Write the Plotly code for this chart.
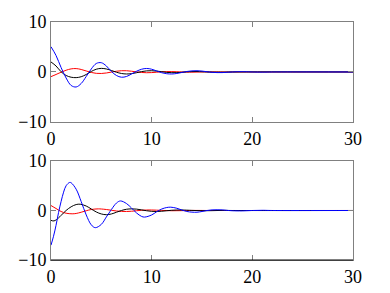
import plotly.graph_objects as go
from plotly.subplots import make_subplots

# ---- top panel data ----
top_blue_t = [0, 0.5, 1.0, 1.5, 2.0, 2.5, 3.0, 3.5, 4.0, 4.5, 5.0, 5.5, 6.0, 6.5, 7.0, 7.5, 8.0, 8.5, 9.0, 9.5,
              10, 10.5, 11, 11.5, 12, 12.5, 13, 13.5, 14, 14.5, 15, 15.5, 16, 16.5, 17, 17.5, 18, 18.5, 19, 19.5,
              20, 21, 22, 24, 30]
top_blue_y = [5.05, 3.3, 0.9, -1.2, -2.7, -3.0, -2.3, -0.9, 0.6, 1.7, 1.85, 1.2, 0.1, -0.7, -1.05, -0.9, -0.4, 0.15, 0.55, 0.7,
              0.55, 0.2, -0.15, -0.35, -0.4, -0.3, -0.1, 0.1, 0.22, 0.25, 0.18, 0.05, -0.07, -0.12, -0.12, -0.06, 0.0, 0.05, 0.06, 0.04,
              0.0, -0.03, 0.0, 0.01, 0.0]

top_black_t = [0, 0.5, 1.0, 1.5, 2.0, 2.5, 3.0, 3.5, 4.0, 4.5, 5.0, 5.5, 6.0, 6.5, 7.0, 7.5, 8.0, 8.5, 9.0, 9.5,
               10, 10.5, 11, 11.5, 12, 12.5, 13, 13.5, 14, 14.5, 15, 16, 17, 18, 30]
top_black_y = [2.0, 1.2, 0.05, -0.7, -1.05, -1.13, -0.95, -0.5, 0.1, 0.55, 0.72, 0.6, 0.3, -0.05, -0.3, -0.4, -0.33, -0.15, 0.08, 0.22,
               0.25, 0.18, 0.05, -0.08, -0.14, -0.13, -0.06, 0.03, 0.08, 0.09, 0.05, -0.03, -0.04, 0.0, 0.0]

top_red_t = [0, 0.5, 1.0, 1.5, 2.0, 2.5, 3.0, 3.5, 4.0, 4.5, 5.0, 5.5, 6.0, 6.5, 7.0, 7.5, 8.0, 8.5, 9.0, 9.5,
             10, 10.5, 11, 11.5, 12, 12.5, 13, 14, 15, 16, 18, 30]
top_red_y = [-0.93, -0.5, -0.05, 0.35, 0.62, 0.68, 0.5, 0.2, -0.1, -0.27, -0.3, -0.2, -0.02, 0.15, 0.25, 0.25, 0.15, 0.02, -0.1, -0.15,
             -0.12, -0.05, 0.04, 0.08, 0.08, 0.05, 0.0, -0.04, 0.0, 0.02, 0.0, 0.0]

# ---- bottom panel data ----
bot_blue_t = [0, 0.25, 0.5, 0.75, 1.0, 1.25, 1.5, 1.85, 2.0, 2.5, 3.0, 3.5, 4.0, 4.4, 5.0, 5.5, 6.0, 6.5, 6.9, 7.5,
              8.0, 8.5, 9.0, 9.3, 10.0, 10.5, 11, 11.5, 11.9, 12.5, 13, 13.5, 14, 14.5, 15, 15.5, 16, 16.5, 17, 17.5,
              18, 19, 20, 21, 22, 30]
bot_blue_y = [-7.0, -5.2, -3.0, -0.4, 1.8, 3.7, 5.0, 5.67, 5.6, 4.3, 1.8, -0.9, -2.9, -3.47, -2.8, -1.3, 0.2, 1.5, 1.93, 1.4,
              0.5, -0.5, -1.2, -1.33, -0.9, -0.25, 0.3, 0.6, 0.67, 0.45, 0.1, -0.2, -0.33, -0.35, -0.2, 0.0, 0.12, 0.15, 0.12, 0.03,
              -0.05, -0.08, 0.0, 0.04, 0.0, 0.0]

bot_black_t = [0, 0.3, 0.75, 1.0, 1.5, 2.0, 2.5, 2.9, 3.5, 4.0, 4.5, 5.0, 5.5, 6.0, 6.5, 7.0, 7.5, 8.0, 8.5, 9.0,
               9.5, 10, 10.5, 11, 11.5, 12, 12.5, 13, 14, 15, 16, 17, 18, 30]
bot_black_y = [-2.0, -2.1, -1.5, -1.0, 0.0, 0.75, 1.2, 1.27, 0.9, 0.3, -0.3, -0.7, -0.85, -0.7, -0.35, 0.0, 0.25, 0.33, 0.28, 0.12,
               -0.05, -0.17, -0.2, -0.15, -0.05, 0.05, 0.1, 0.1, 0.02, -0.05, -0.03, 0.02, 0.0, 0.0]

bot_red_t = [0, 0.5, 1.0, 1.5, 2.1, 2.5, 3.0, 3.5, 4.0, 4.7, 5.0, 5.5, 6.0, 6.5, 7.0, 7.5, 8.0, 8.5, 9.0, 9.5,
             10, 11, 12, 13, 14, 16, 30]
bot_red_y = [1.0, 0.4, -0.2, -0.55, -0.67, -0.6, -0.35, -0.05, 0.2, 0.33, 0.3, 0.2, 0.05, -0.1, -0.18, -0.2, -0.15, -0.05, 0.05, 0.1,
             0.1, 0.02, -0.05, -0.03, 0.01, 0.0, 0.0]

x_ticks = [0, 10, 20, 30]
x_labels = ["0", "10", "20", "30"]
y_ticks = [-10, 0, 10]
y_labels = ["\u221210", "0", "10"]

fig = make_subplots(rows=2, cols=1, vertical_spacing=0.164)

def add(t, y, color, row):
    fig.add_trace(go.Scatter(x=t, y=y, mode="lines", line=dict(color=color, width=1, shape="spline", smoothing=1.0),
                             showlegend=False, hoverinfo="skip"), row=row, col=1)

add(top_red_t, top_red_y, "#ff0000", 1)
add(top_black_t, top_black_y, "#000000", 1)
add(top_blue_t, top_blue_y, "#0000ff", 1)
add(bot_red_t, bot_red_y, "#ff0000", 2)
add(bot_black_t, bot_black_y, "#000000", 2)
add(bot_blue_t, bot_blue_y, "#0000ff", 2)

font = dict(family="Times New Roman", size=18, color="#000000")
axis_common = dict(showgrid=False, zeroline=False, showline=True, linecolor="#808080", linewidth=1,
                   mirror="ticks", ticks="inside", ticklen=5, tickcolor="#808080", tickfont=font,
                   automargin=False)

for r in (1, 2):
    fig.update_xaxes(range=[0, 30], tickvals=x_ticks, ticktext=x_labels, **axis_common, row=r, col=1)
    fig.update_yaxes(range=[-10, 10], tickvals=y_ticks, ticktext=y_labels, **axis_common, row=r, col=1)

fig.update_layout(
    template="none",
    width=390, height=293,
    margin=dict(l=43, r=45, t=14, b=41, pad=0),
    paper_bgcolor="white", plot_bgcolor="white",
    font=font,
    shapes=[dict(type="line", xref="x2 domain", yref="y2 domain", x0=0, x1=1, y0=0, y1=0,
                 line=dict(color="#000000", width=1))],
)
fig.update_yaxes(domain=[0.58, 1.0], row=1, col=1)
fig.update_yaxes(domain=[0.0, 0.416], row=2, col=1)

fig.write_html("out.html")
